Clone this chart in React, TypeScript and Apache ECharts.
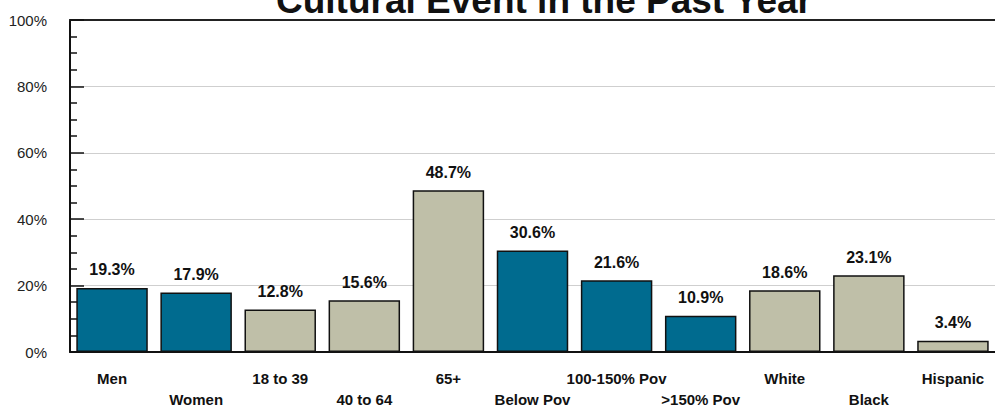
import React, { useEffect, useRef } from "react";
import * as echarts from "echarts";

const titleText = "Cultural Event in the Past Year";
const categories = [
  "Men",
  "Women",
  "18 to 39",
  "40 to 64",
  "65+",
  "Below Pov",
  "100-150% Pov",
  ">150% Pov",
  "White",
  "Black",
  "Hispanic",
];
const values = [19.3, 17.9, 12.8, 15.6, 48.7, 30.6, 21.6, 10.9, 18.6, 23.1, 3.4];
// group: 0 = blue (sex, poverty), 1 = tan (age, race)
const groups = [0, 0, 1, 1, 1, 0, 0, 0, 1, 1, 1];
const yTicks = [0, 20, 40, 60, 80, 100];

const BLUE = "#006B8F";
const TAN = "#BFBFA8";

export default function App() {
  const ref = useRef<HTMLDivElement>(null);
  useEffect(() => {
    if (!ref.current) return;
    const chart = echarts.init(ref.current, undefined, { renderer: "svg" });
    const font = "Arial, 'Liberation Sans', Helvetica, sans-serif";
    chart.setOption({
      animation: false,
      backgroundColor: "#ffffff",
      title: {
        text: titleText,
        left: 539,
        textAlign: "center",
        top: -23,
        textStyle: {
          fontFamily: font,
          fontSize: 37,
          fontWeight: "bold",
          color: "#111",
        },
      },
      grid: { left: 70, right: -10, top: 20, bottom: 55, containLabel: false },
      xAxis: [
        {
          type: "category",
          data: categories,
          position: "bottom",
          axisLine: { show: true, lineStyle: { color: "#111", width: 2 } },
          axisTick: { show: false },
          axisLabel: {
            interval: 0,
            margin: 16,
            lineHeight: 21,
            fontFamily: font,
            fontSize: 15,
            fontWeight: "bold",
            color: "#111",
            formatter: (v: string, i: number) => (i % 2 === 1 ? "\n" + v : v),
          },
        },
        {
          type: "category",
          data: categories,
          position: "top",
          axisLine: { show: true, lineStyle: { color: "#222", width: 2 } },
          axisTick: { show: false },
          axisLabel: { show: false },
        },
      ],
      yAxis: {
        type: "value",
        min: yTicks[0],
        max: yTicks[yTicks.length - 1],
        interval: 20,
        axisLine: { show: true, lineStyle: { color: "#111", width: 2 } },
        axisTick: {
          show: true,
          inside: true,
          length: 14,
          lineStyle: { color: "#111", width: 1.5 },
        },
        minorTick: {
          show: true,
          splitNumber: 4,
          length: 7,
          lineStyle: { color: "#111", width: 1.5 },
        },
        splitLine: {
          show: true,
          lineStyle: { color: "#cfcfcf", width: 1 },
        },
        axisLabel: {
          margin: 23,
          fontFamily: font,
          fontSize: 15,
          color: "#222",
          formatter: "{value}%",
        },
      },
      series: [
        {
          type: "bar",
          xAxisIndex: 0,
          barCategoryGap: "15%",
          data: values.map((v, i) => ({
            value: v,
            itemStyle: { color: groups[i] === 0 ? BLUE : TAN },
          })),
          itemStyle: { borderColor: "#111", borderWidth: 1.5 },
          label: {
            show: true,
            position: "top",
            distance: 10,
            fontFamily: font,
            fontSize: 16,
            fontWeight: "bold",
            color: "#111",
            formatter: (p: any) => p.value.toFixed(1) + "%",
          },
        },
      ],
    });
    return () => chart.dispose();
  }, []);
  return (
    <div
      ref={ref}
      style={{ position: "absolute", left: 0, top: 0, width: 995, height: 410 }}
    />
  );
}
